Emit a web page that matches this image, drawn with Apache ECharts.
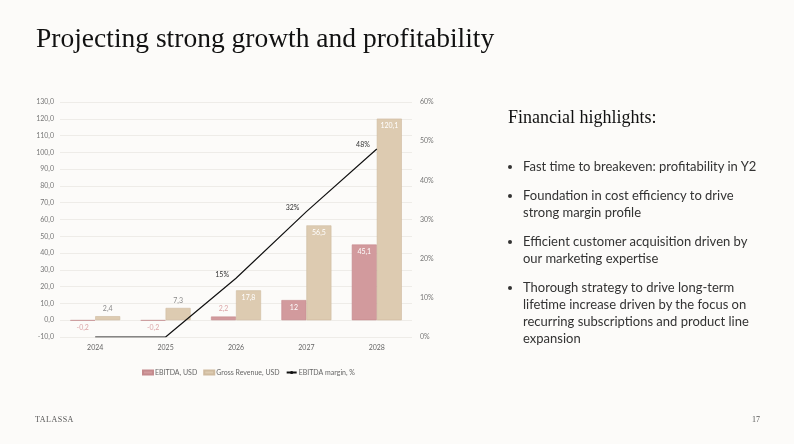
<!DOCTYPE html>
<html>
<head>
<meta charset="utf-8">
<script src="https://cdn.jsdelivr.net/npm/echarts@6/dist/echarts.min.js"></script>
<style>
  html, body { margin: 0; padding: 0; background: #fcfbf9; }
  #page { position: relative; width: 794px; height: 444px; overflow: hidden; background: #fcfbf9; }
  #chart { position: absolute; left: 0; top: 0; width: 794px; height: 444px; }
  .title { position: absolute; left: 36px; top: 22px; font-family: "Liberation Serif", serif; font-size: 27.5px; color: #111; white-space: nowrap; }
  .side-title { position: absolute; left: 508px; top: 107px; font-family: "Liberation Serif", serif; font-size: 18px; color: #111; white-space: nowrap; }
  ul.points { position: absolute; left: 506px; top: 158px; margin: 0; padding: 0 0 0 17px; font-family: Lato, sans-serif; font-size: 13px; line-height: 17px; color: #333; white-space: nowrap; }
  ul.points li { margin: 0 0 12px 0; padding-left: 0; }
  .brand { position: absolute; left: 35px; top: 415px; font-family: "Liberation Serif", serif; font-size: 8px; letter-spacing: 0.5px; color: #555; }
  .pageno { position: absolute; left: 752px; top: 415px; font-family: "Liberation Serif", serif; font-size: 8px; color: #555; }
</style>
</head>
<body>
<div id="page">
  <div id="chart"></div>
  <div class="title">Projecting strong growth and profitability</div>
  <div class="side-title">Financial highlights:</div>
  <ul class="points">
    <li>Fast time to breakeven: profitability in Y2</li>
    <li>Foundation in cost efficiency to drive<br>strong margin profile</li>
    <li>Efficient customer acquisition driven by<br>our marketing expertise</li>
    <li>Thorough strategy to drive long-term<br>lifetime increase driven by the focus on<br>recurring subscriptions and product line<br>expansion</li>
  </ul>
  <div class="brand">TALASSA</div>
  <div class="pageno">17</div>
</div>
<script>
  const years = ['2024', '2025', '2026', '2027', '2028']
  const ebitda = [-0.2, -0.2, 2.2, 12, 45.1]
  const grossRevenue = [2.4, 7.3, 17.8, 56.5, 120.1]
  const ebitdaMargin = [0, 0, 15, 32, 48]
  const leftTicks = {min: -10, max: 130, step: 10}
  const rightTicks = {min: 0, max: 60, step: 10}

  const pink = '#d29a9d'
  const sand = '#ddcbb1'
  const comma = v => String(v).replace('.', ',')

  // small values get the label outside the bar, larger ones sit inside in white
  const ebitdaData = ebitda.map(v => {
    if (v < 0) return {value: v, label: {position: 'bottom', color: '#dba5a7'}}
    if (v < 5) return {value: v, label: {position: 'top', color: '#dba5a7'}}
    return {value: v, label: {position: 'insideTop', color: '#fff'}}
  })
  const grossData = grossRevenue.map(v => {
    if (v < 10) return {value: v, label: {position: 'top', color: '#8a8a8a'}}
    return {value: v, label: {position: 'insideTop', color: '#fff'}}
  })
  const marginData = ebitdaMargin.map(v => ({value: v, label: {show: v > 0}}))

  const chart = echarts.init(document.getElementById('chart'))
  chart.setOption({
    animation: false,
    textStyle: {fontFamily: 'Lato, sans-serif'},
    grid: {left: 60, right: 382, top: 102, bottom: 107},
    legend: {
      bottom: 63,
      left: 137,
      itemWidth: 10,
      itemHeight: 4,
      itemGap: 6,
      textStyle: {fontSize: 7, color: '#666', padding: [0, 0, 0, -3]},
      data: [
        {name: 'EBITDA, USD', icon: 'rect'},
        {name: 'Gross Revenue, USD', icon: 'rect'},
        {name: 'EBITDA margin, %'}
      ]
    },
    xAxis: {
      type: 'category',
      data: years,
      axisLine: {show: false},
      axisTick: {show: false},
      axisLabel: {fontSize: 7, color: '#666', margin: 7}
    },
    yAxis: [
      {
        type: 'value',
        min: leftTicks.min,
        max: leftTicks.max,
        interval: leftTicks.step,
        axisLabel: {fontSize: 7, color: '#777', margin: 6, formatter: v => v.toFixed(1).replace('.', ',')},
        splitLine: {lineStyle: {color: '#eeece8', width: 1}}
      },
      {
        type: 'value',
        min: rightTicks.min,
        max: rightTicks.max,
        interval: rightTicks.step,
        axisLabel: {fontSize: 7, color: '#777', margin: 8, formatter: '{value}%'},
        splitLine: {show: false}
      }
    ],
    series: [
      {
        name: 'EBITDA, USD',
        type: 'bar',
        data: ebitdaData,
        barWidth: 25,
        barGap: '0%',
        itemStyle: {color: pink, borderColor: '#c48a8d', borderWidth: 0.6},
        label: {show: true, fontSize: 7, distance: 4, formatter: p => comma(p.value)}
      },
      {
        name: 'Gross Revenue, USD',
        type: 'bar',
        data: grossData,
        barWidth: 25,
        itemStyle: {color: sand, borderColor: '#cfbb9f', borderWidth: 0.6},
        label: {show: true, fontSize: 7, distance: 4, formatter: p => comma(p.value)}
      },
      {
        name: 'EBITDA margin, %',
        type: 'line',
        yAxisIndex: 1,
        data: marginData,
        symbol: 'circle',
        symbolSize: 0,
        showSymbol: true,
        lineStyle: {color: '#111', width: 1.2},
        itemStyle: {color: '#111'},
        label: {show: true, position: 'left', distance: 7, offset: [0, -4], fontSize: 7, fontWeight: 'normal', color: '#333', formatter: '{c}%'}
      }
    ]
  })
</script>
</body>
</html>
